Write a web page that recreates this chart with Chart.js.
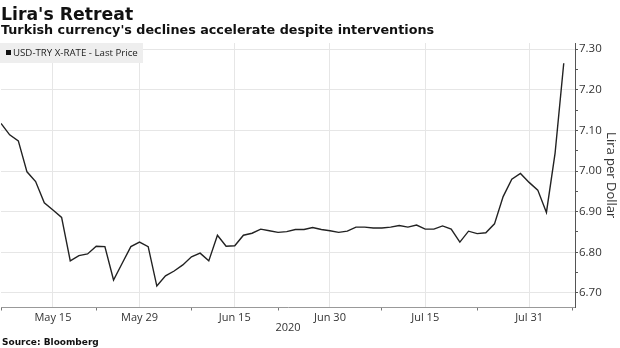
<!DOCTYPE html>
<html>
<head>
<meta charset="utf-8">
<script src="https://cdn.jsdelivr.net/npm/chart.js@4/dist/chart.umd.min.js"></script>
<style>
  html, body { margin: 0; padding: 0; background: #fff; }
  #wrap { position: relative; width: 620px; height: 348px; overflow: hidden; }
  #chart { position: absolute; left: 0; top: 0; }
  .title { position: absolute; left: 1px; top: 3.5px; font: bold 17.3px "DejaVu Sans"; line-height: 20px; color: #111; white-space: nowrap; }
  .subtitle { position: absolute; left: 1px; top: 22px; font: bold 12.75px "DejaVu Sans"; line-height: 16px; color: #111; white-space: nowrap; }
  .legend { position: absolute; left: 0; top: 43px; width: 143px; height: 20px; background: #eeeeee; font: 9.7px "Open Sans"; line-height: 20px; color: #222; white-space: nowrap; }
  .legend i { display: inline-block; width: 5px; height: 5px; background: #111; margin: 0 2px 1px 6px; vertical-align: middle; }
  .source { position: absolute; left: 2px; top: 337px; font: bold 9px "DejaVu Sans"; line-height: 11px; color: #111; white-space: nowrap; }
</style>
</head>
<body>
<div id="wrap">
  <canvas id="chart" width="620" height="348"></canvas>
  <div class="title">Lira's Retreat</div>
  <div class="subtitle">Turkish currency's declines accelerate despite interventions</div>
  <div class="legend"><i></i>USD-TRY X-RATE - Last Price</div>
  <div class="source">Source: Bloomberg</div>
</div>
<script>
// Business days shown on the chart (2020)
const dates = [
    'May 7', 'May 8', 'May 11', 'May 12', 'May 13', 'May 14', 'May 15',
    'May 18', 'May 19', 'May 20', 'May 21', 'May 22',
    'May 25', 'May 26', 'May 27', 'May 28', 'May 29',
    'Jun 1', 'Jun 2', 'Jun 3', 'Jun 4', 'Jun 5',
    'Jun 8', 'Jun 9', 'Jun 10', 'Jun 11', 'Jun 12',
    'Jun 15', 'Jun 16', 'Jun 17', 'Jun 18', 'Jun 19',
    'Jun 22', 'Jun 23', 'Jun 24', 'Jun 25', 'Jun 26',
    'Jun 29', 'Jun 30', 'Jul 1', 'Jul 2', 'Jul 3',
    'Jul 6', 'Jul 7', 'Jul 8', 'Jul 9', 'Jul 10',
    'Jul 13', 'Jul 14', 'Jul 15', 'Jul 16', 'Jul 17',
    'Jul 20', 'Jul 21', 'Jul 22', 'Jul 23', 'Jul 24',
    'Jul 27', 'Jul 28', 'Jul 29', 'Jul 30', 'Jul 31',
    'Aug 3', 'Aug 4', 'Aug 5', 'Aug 6'
];

// USD-TRY last price
const lastPrice = [
    7.117, 7.089, 7.074, 6.998, 6.974, 6.922, 6.904,
    6.886, 6.779, 6.792, 6.796, 6.815,
    6.814, 6.732, 6.773, 6.814, 6.825,
    6.814, 6.717, 6.742, 6.754, 6.769,
    6.789, 6.798, 6.779, 6.842, 6.815,
    6.816, 6.842, 6.847, 6.857, 6.853,
    6.849, 6.851, 6.856, 6.856, 6.861,
    6.856, 6.853, 6.849, 6.852, 6.862,
    6.862, 6.860, 6.860, 6.862, 6.866,
    6.862, 6.867, 6.857, 6.857, 6.865,
    6.857, 6.825, 6.852, 6.846, 6.848,
    6.870, 6.937, 6.980, 6.994, 6.972,
    6.953, 6.898, 7.044, 7.265
];

// Labelled x ticks and the small unlabelled ones between them
const xTickLabels = ['May 15', 'May 29', 'Jun 15', 'Jun 30', 'Jul 15', 'Jul 31'];
const xMinorTicks = ['May 7', 'May 22', 'Jun 8', 'Jun 22', 'Jul 8', 'Jul 23', 'Aug 7'];

// Right axis ticks
const yTickValues = [6.70, 6.75, 6.80, 6.85, 6.90, 6.95, 7.00, 7.05, 7.10, 7.15, 7.20, 7.25, 7.30];

// Helper: index of a date on the business-day axis (one past the end if beyond data)
function dateIndex(d) {
    const i = dates.indexOf(d);
    return i === -1 ? dates.length : i;
}

const majorX = xTickLabels.map(dateIndex);
const minorX = xMinorTicks.map(dateIndex);

function isMajorY(v) {
    return Math.abs(v * 10 - Math.round(v * 10)) < 1e-6;
}

const points = lastPrice.map((v, i) => ({ x: i, y: v }));

const ctx = document.getElementById('chart');
new Chart(ctx, {
    type: 'line',
    data: {
        datasets: [{
            label: 'USD-TRY X-RATE - Last Price',
            data: points,
            borderColor: '#222222',
            borderWidth: 1.4,
            pointRadius: 0,
            tension: 0,
            fill: false
        }]
    },
    options: {
        responsive: false,
        animation: false,
        layout: { padding: { top: 43, bottom: 13.5, left: 0, right: 0 } },
        plugins: {
            legend: { display: false },
            tooltip: { enabled: false }
        },
        scales: {
            x: {
                type: 'linear',
                min: 0,
                max: 66.3,
                afterBuildTicks: (scale) => {
                    scale.ticks = minorX.concat(majorX).sort((a, b) => a - b).map(v => ({ value: v }));
                },
                afterFit: (scale) => { scale.height = 27; },
                ticks: {
                    autoSkip: false,
                    maxRotation: 0,
                    padding: 1,
                    color: '#333',
                    font: { family: 'Open Sans', size: 11 },
                    callback: (value) => majorX.includes(value) ? dates[value] : ''
                },
                grid: {
                    color: (c) => (c.tick && majorX.includes(c.tick.value)) ? '#e6e6e6' : 'rgba(0,0,0,0)',
                    tickColor: (c) => (c.tick && majorX.includes(c.tick.value)) ? 'rgba(0,0,0,0)' : '#777',
                    tickLength: 3
                },
                border: { color: '#999', width: 1 },
                title: {
                    display: true,
                    text: '2020',
                    color: '#333',
                    font: { family: 'Open Sans', size: 11 },
                    padding: 0
                }
            },
            y: {
                position: 'right',
                min: 6.6643,
                max: 7.3148,
                afterBuildTicks: (scale) => {
                    scale.ticks = yTickValues.map(v => ({ value: v }));
                },
                afterFit: (scale) => { scale.width = 45; },
                ticks: {
                    padding: 1,
                    color: '#333',
                    font: { family: 'Open Sans', size: 11.5 },
                    callback: (value) => isMajorY(value) ? value.toFixed(2) : ''
                },
                grid: {
                    color: (c) => (c.tick && isMajorY(c.tick.value)) ? '#e6e6e6' : 'rgba(0,0,0,0)',
                    tickColor: '#555',
                    tickLength: 3
                },
                border: { color: '#555', width: 1 },
                title: {
                    display: true,
                    text: 'Lira per Dollar',
                    color: '#333',
                    font: { family: 'Open Sans', size: 13 },
                    padding: { top: 1, bottom: 0 }
                }
            }
        }
    }
});
</script>
</body>
</html>
